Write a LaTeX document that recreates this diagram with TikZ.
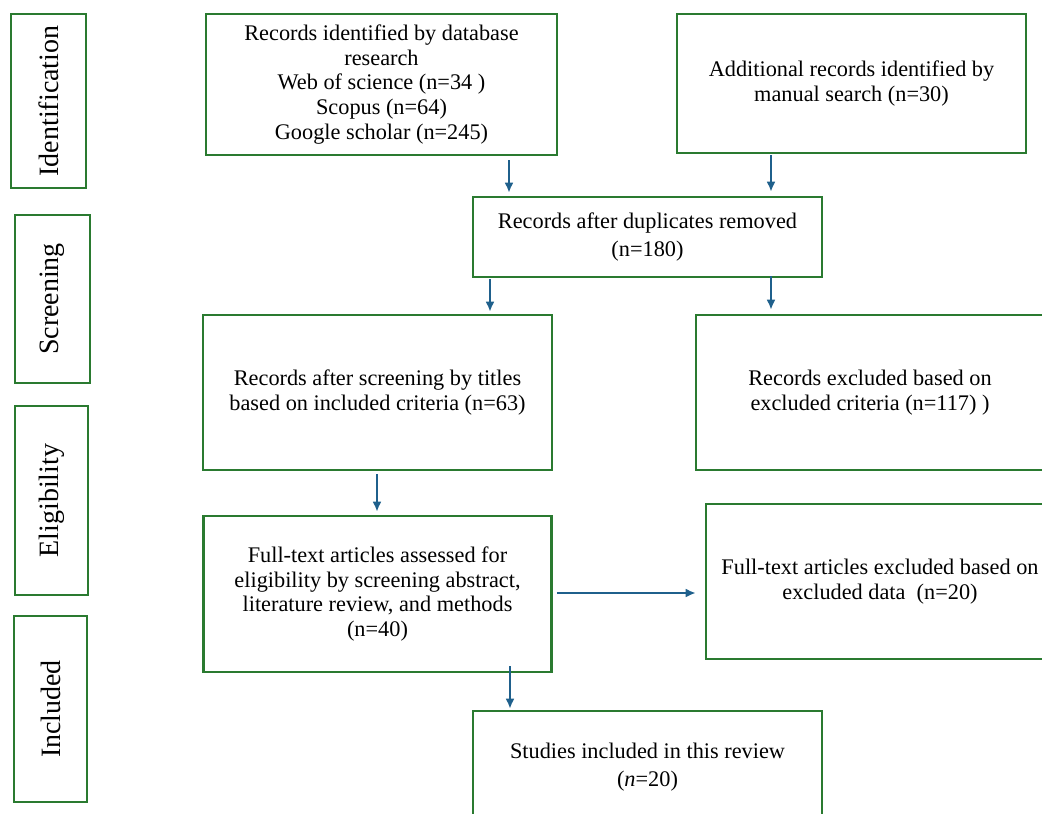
\documentclass[tikz,border=0pt]{standalone}
\usepackage{fontspec}
\setmainfont{Liberation Serif}
\usetikzlibrary{arrows.meta}
\definecolor{boxgreen}{RGB}{42,122,48}
\definecolor{arrblue}{RGB}{31,96,140}
\tikzset{
  flowbox/.style={draw=boxgreen, line width=2.6pt, rectangle, align=center, inner sep=2pt,
    font=\fontsize{22.3}{24.8}\selectfont},
  widebox/.style={flowbox, font=\fontsize{22.3}{28.5}\selectfont},
  phasebox/.style={draw=boxgreen, line width=2.6pt, rectangle, inner sep=0pt,
    font=\fontsize{28}{30}\selectfont, rotate=90},
  arr/.style={draw=arrblue, line width=2.1pt, -{Latex[length=10pt,width=9pt]}}
}
\begin{document}
\begin{tikzpicture}[x=1pt,y=-1pt]
\useasboundingbox (0,0) rectangle (1042,814);
% phase labels
\node[phasebox, minimum width=174pt, minimum height=75pt] (pid) at (48.5,101) {Identification};
\node[phasebox, minimum width=168pt, minimum height=75pt] (psc) at (52.5,299) {Screening};
\node[phasebox, minimum width=189pt, minimum height=73pt] (pel) at (51.5,500.5) {Eligibility};
\node[phasebox, minimum width=186pt, minimum height=73pt] (pin) at (50.5,709) {Included};
% main boxes
\node[flowbox, minimum width=351pt, minimum height=141pt] (A) at (381.5,84.5)
  {Records identified by database\\research\\Web of science (n=34 )\\Scopus (n=64)\\Google scholar (n=245)};
\node[flowbox, minimum width=349pt, minimum height=139pt] (B) at (851.5,83.5)
  {Additional records identified by\\manual search (n=30)};
\node[widebox, minimum width=349pt, minimum height=80pt] (C) at (647.5,237)
  {Records after duplicates removed\\(n=180)};
\node[flowbox, minimum width=349pt, minimum height=155pt] (D) at (377.5,392.5)
  {Records after screening by titles\\based on included criteria (n=63)};
\node[flowbox, minimum width=348pt, minimum height=155pt] (E) at (870,392.5)
  {Records excluded based on\\excluded criteria (n=117) )};
\node[flowbox, minimum width=348pt, minimum height=156pt] (F) at (377.5,594)
  {Full-text articles assessed for\\eligibility by screening abstract,\\literature review, and methods\\(n=40)};
\node[flowbox, minimum width=348pt, minimum height=155pt] (G) at (880,581.5)
  {Full-text articles excluded based on\\excluded data~ (n=20)};
\node[widebox, minimum width=349pt, minimum height=112pt] (H) at (647.5,767)
  {Studies included in this review\\(\textit{n}=20)};
% connector columns
\coordinate (xa) at (509,0);
\coordinate (xb) at (771,0);
\coordinate (xc) at (490,0);
\coordinate (xd) at (377,0);
\coordinate (xf) at (510,0);
\coordinate (yf) at (0,593);
% connectors
\draw[arr, shorten <=4pt, shorten >=3pt] (A.south -| xa) -- (C.north -| xa);
\draw[arr, shorten <=1pt, shorten >=4pt] (B.south -| xb) -- (C.north -| xb);
\draw[arr, shorten <=1pt, shorten >=2pt] (C.south -| xc) -- (D.north -| xc);
\draw[arr, shorten <=-2pt, shorten >=4pt] (C.south -| xb) -- (E.north -| xb);
\draw[arr, shorten <=3pt, shorten >=3pt] (D.south -| xd) -- (F.north -| xd);
\draw[arr, shorten <=4pt, shorten >=9pt] (F.east |- yf) -- (G.west |- yf);
\draw[arr, shorten <=-7pt, shorten >=1pt] (F.south -| xf) -- (H.north -| xf);
\end{tikzpicture}
\end{document}
